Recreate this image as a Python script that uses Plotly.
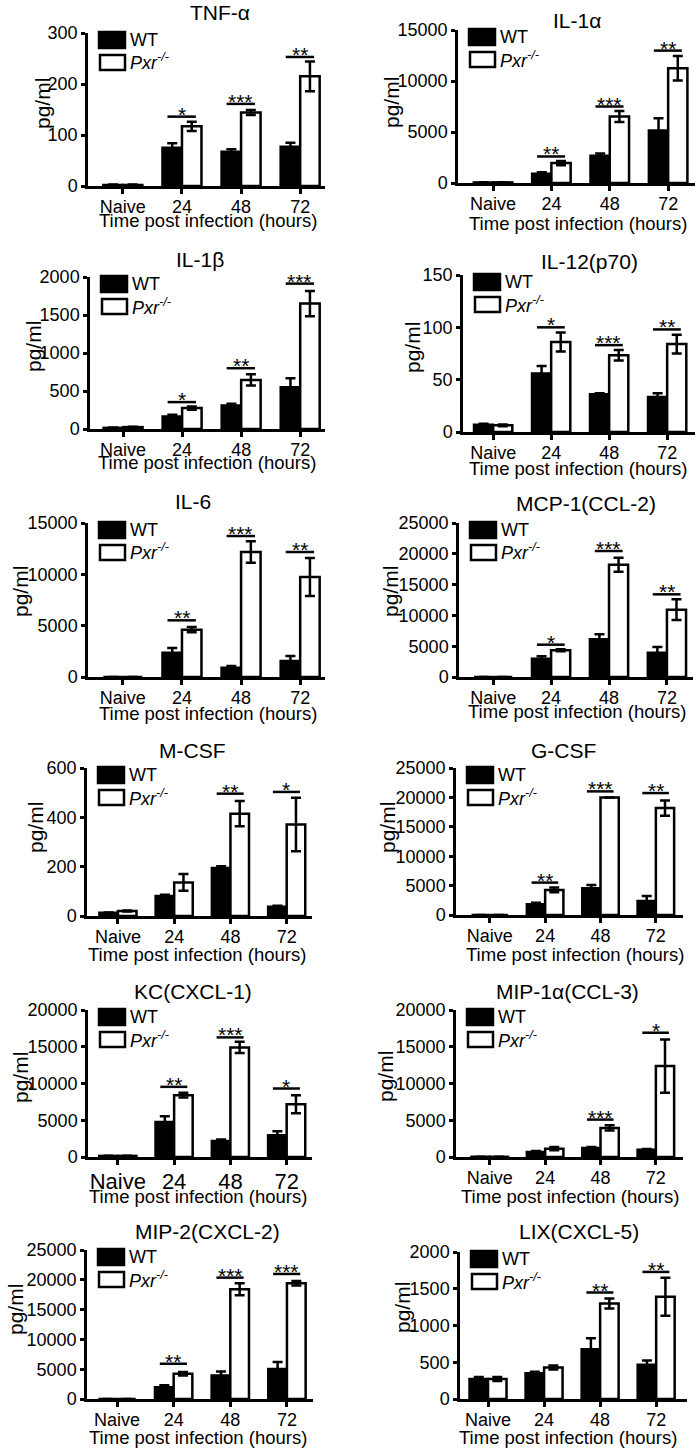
import plotly.graph_objects as go

# ---------------- data ----------------
cytokines = ["TNF-α", "IL-1α", "IL-1β", "IL-12(p70)", "IL-6", "MCP-1(CCL-2)",
             "M-CSF", "G-CSF", "KC(CXCL-1)", "MIP-1α(CCL-3)", "MIP-2(CXCL-2)", "LIX(CXCL-5)"]
time_labels = ["Naive", "24", "48", "72"]

wt_mean = [
    [2, 75, 67, 77],
    [50, 900, 2680, 5150],
    [15, 166, 310, 550],
    [7, 56, 36, 33.5],
    [0, 2370, 909, 1558],
    [0, 2976, 6115, 3950],
    [13, 81, 195, 38],
    [0, 1818, 4545, 2386],
    [150, 4773, 2182, 2955],
    [30, 682, 1227, 1000],
    [0, 1953, 3962, 5022],
    [271, 352, 677, 465],
]
wt_err = [
    [1, 9, 5, 8],
    [20, 150, 200, 1200],
    [5, 22, 22, 118],
    [1, 7, 1, 3.5],
    [0, 455, 160, 490],
    [0, 380, 810, 920],
    [1, 5, 7, 4],
    [0, 284, 569, 853],
    [30, 772, 182, 545],
    [10, 136, 137, 91],
    [0, 335, 670, 1172],
    [27, 18, 149, 59],
]
ko_mean = [
    [2, 117, 144, 215],
    [60, 1950, 6520, 11250],
    [25, 275, 646, 1650],
    [6.4, 86, 73.4, 84],
    [0, 4610, 12175, 9740],
    [0, 4329, 18236, 10930],
    [20, 136, 415, 371],
    [0, 4261, 20000, 18182],
    [150, 8409, 14909, 7182],
    [30, 1136, 3955, 12364],
    [0, 4241, 18415, 19420],
    [271, 429, 1300, 1391],
]
ko_err = [
    [1, 9, 5, 29],
    [20, 200, 550, 1200],
    [5, 22, 74, 166],
    [0.8, 9, 5, 9],
    [0, 260, 1040, 1850],
    [0, 160, 1140, 1680],
    [2, 34, 51, 108],
    [0, 398, 0, 1307],
    [30, 318, 773, 1227],
    [10, 228, 363, 3636],
    [0, 279, 1005, 390],
    [27, 27, 68, 257],
]
sig_labels = [
    ["", "*", "***", "**"],
    ["", "**", "***", "**"],
    ["", "*", "**", "***"],
    ["", "*", "***", "**"],
    ["", "**", "***", "**"],
    ["", "*", "***", "**"],
    ["", "", "**", "*"],
    ["", "**", "***", "**"],
    ["", "**", "***", "*"],
    ["", "", "***", "*"],
    ["", "**", "***", "***"],
    ["", "", "**", "**"],
]
sig_heights = [
    [None, 136, 161, 253],
    [None, 2600, 7500, 12980],
    [None, 354, 800, 1913],
    [None, 100, 83, 98],
    [None, 5520, 13734, 12175],
    [None, 5249, 20454, 13420],
    [None, None, 496, 503],
    [None, 5511, 21023, 20738],
    [None, 9545, 16273, 9318],
    [None, None, 5091, 16909],
    [None, 5915, 20368, 20982],
    [None, None, 1449, 1729],
]
y_max = [300, 15000, 2000, 150, 15000, 25000, 600, 25000, 20000, 20000, 25000, 2000]
y_step = [100, 5000, 500, 50, 5000, 5000, 200, 5000, 5000, 5000, 5000, 500]
series_names = ["WT", "Pxr-/-"]

# ---------------- layout geometry (pixels) ----------------
W, H = 700, 1453
# plot area: x0, x1, ytop, ybottom
panel_px = [
    (88, 325, 33, 186), (458, 695, 30, 183),
    (90, 325, 277, 429), (463, 695, 275, 432),
    (88, 325, 523, 677), (459, 693, 523, 677),
    (87, 312, 768, 916), (456, 683, 768, 915),
    (88, 312, 1010, 1157), (456, 683, 1010, 1157),
    (87, 313, 1250, 1399), (460, 687, 1252, 1399),
]
x_ranges = [
    (-0.59, 3.42), (-0.60, 3.46), (-0.56, 3.42), (-0.52, 3.48),
    (-0.59, 3.42), (-0.59, 3.45), (-0.55, 3.45), (-0.61, 3.49),
    (-0.53, 3.45), (-0.61, 3.49), (-0.53, 3.46), (-0.50, 3.55),
]
title_pos = [(220, 13), (577, 21), (200, 260), (589, 261), (193, 502), (586, 503),
             (193, 750), (563, 750), (193, 991), (567, 991), (207, 1231), (579, 1231)]
xtitle_pos = [(208, 221), (578, 223), (207, 463), (578, 468), (208, 713), (577, 712),
              (197, 954), (575, 954), (198, 1196), (570, 1196), (198, 1437), (568, 1437)]
ytitle_pos = [(42, 104), (392, 103), (33, 347), (412, 347), (20, 592), (390, 592),
              (35, 828), (387, 828), (20, 1078), (385, 1077), (15, 1310), (402, 1308)]

FONT = "Liberation Sans, Arial, Helvetica, sans-serif"
LW = 2.5


def px_x(v):
    return v / W


def px_y(v):
    return 1 - v / H


fig = go.Figure()
shapes = []
annotations = []
layout_axes = {}
idx = [0, 1, 2, 3]

for i in range(12):
    sfx = "" if i == 0 else str(i + 1)
    xa, ya = "x" + sfx, "y" + sfx
    x0, x1, yt, yb = panel_px[i]

    fig.add_trace(go.Bar(
        x=idx, y=wt_mean[i], name=series_names[0], xaxis=xa, yaxis=ya,
        marker=dict(color="black", line=dict(color="black", width=LW)),
        error_y=dict(type="data", array=wt_err[i], color="black", thickness=LW, width=5),
        showlegend=False, hoverinfo="skip"))
    fig.add_trace(go.Bar(
        x=idx, y=ko_mean[i], name=series_names[1], xaxis=xa, yaxis=ya,
        marker=dict(color="white", line=dict(color="black", width=LW)),
        error_y=dict(type="data", array=ko_err[i], color="black", thickness=LW, width=5),
        showlegend=False, hoverinfo="skip"))

    tick_font = 22 if i == 8 else 18
    layout_axes["xaxis" + sfx] = dict(
        domain=[px_x(x0), px_x(x1)], range=list(x_ranges[i]), anchor=ya,
        tickmode="array", tickvals=idx, ticktext=time_labels,
        showline=True, linecolor="black", linewidth=LW, mirror=False,
        ticks="outside", ticklen=5, tickwidth=LW, tickcolor="black",
        ticklabelstandoff=-2,
        tickfont=dict(family=FONT, size=tick_font, color="black"),
        showgrid=False, zeroline=False, fixedrange=True, automargin=False)
    layout_axes["yaxis" + sfx] = dict(
        domain=[px_y(yb), px_y(yt)], range=[0, y_max[i]], anchor=xa,
        tickmode="array", tickvals=list(range(0, y_max[i] + 1, y_step[i])),
        tickformat="d",
        showline=True, linecolor="black", linewidth=LW,
        ticks="outside", ticklen=4, tickwidth=LW, tickcolor="black",
        tickfont=dict(family=FONT, size=18, color="black"),
        showgrid=False, zeroline=False, fixedrange=True, automargin=False)

    # significance bars
    for j in range(4):
        if sig_labels[i][j]:
            shapes.append(dict(type="line", xref=xa, yref=ya,
                               x0=j - 0.245, x1=j + 0.235,
                               y0=sig_heights[i][j], y1=sig_heights[i][j],
                               line=dict(color="black", width=LW)))
            annotations.append(dict(xref=xa, yref=ya, x=j - 0.005, y=sig_heights[i][j],
                                    text=sig_labels[i][j], showarrow=False,
                                    xanchor="center", yanchor="bottom", yshift=-11,
                                    font=dict(family=FONT, size=21, color="black")))

    # legend boxes
    lx = x0 + 11
    shapes.append(dict(type="rect", xref="paper", yref="paper",
                       x0=px_x(lx), x1=px_x(lx + 26), y0=px_y(yt + 15), y1=px_y(yt - 1),
                       fillcolor="black", line=dict(color="black", width=LW)))
    shapes.append(dict(type="rect", xref="paper", yref="paper",
                       x0=px_x(lx + 1), x1=px_x(lx + 26), y0=px_y(yt + 37), y1=px_y(yt + 22),
                       fillcolor="white", line=dict(color="black", width=LW)))
    annotations.append(dict(xref="paper", yref="paper", x=px_x(x0 + 40), y=px_y(yt + 7),
                            text="WT", showarrow=False, xanchor="left", yanchor="middle",
                            font=dict(family=FONT, size=18, color="black")))
    annotations.append(dict(xref="paper", yref="paper", x=px_x(x0 + 40), y=px_y(yt + 29),
                            text="<i>Pxr<sup>-/-</sup></i>", showarrow=False,
                            xanchor="left", yanchor="middle",
                            font=dict(family=FONT, size=18, color="black")))

    # panel title
    tx, ty = title_pos[i]
    annotations.append(dict(xref="paper", yref="paper", x=px_x(tx), y=px_y(ty),
                            text=cytokines[i], showarrow=False, xanchor="center",
                            yanchor="middle", font=dict(family=FONT, size=21, color="black")))
    # x-axis title
    xx, xy = xtitle_pos[i]
    annotations.append(dict(xref="paper", yref="paper", x=px_x(xx), y=px_y(xy),
                            text="Time post infection (hours)", showarrow=False,
                            xanchor="center", yanchor="middle",
                            font=dict(family=FONT, size=18.5, color="black")))
    # y-axis title
    yx, yy = ytitle_pos[i]
    annotations.append(dict(xref="paper", yref="paper", x=px_x(yx), y=px_y(yy),
                            text="pg/ml", showarrow=False, textangle=-90,
                            xanchor="center", yanchor="middle",
                            font=dict(family=FONT, size=21, color="black")))

fig.update_layout(
    width=W, height=H, autosize=False,
    margin=dict(l=0, r=0, t=0, b=0, pad=0, autoexpand=False),
    paper_bgcolor="white", plot_bgcolor="white",
    barmode="group", bargap=0.34, bargroupgap=0,
    showlegend=False, shapes=shapes, annotations=annotations,
    font=dict(family=FONT, color="black"),
    **layout_axes)

fig.write_html("out.html", config={"displayModeBar": False, "responsive": False},
               post_script="document.body.style.margin='0';")
